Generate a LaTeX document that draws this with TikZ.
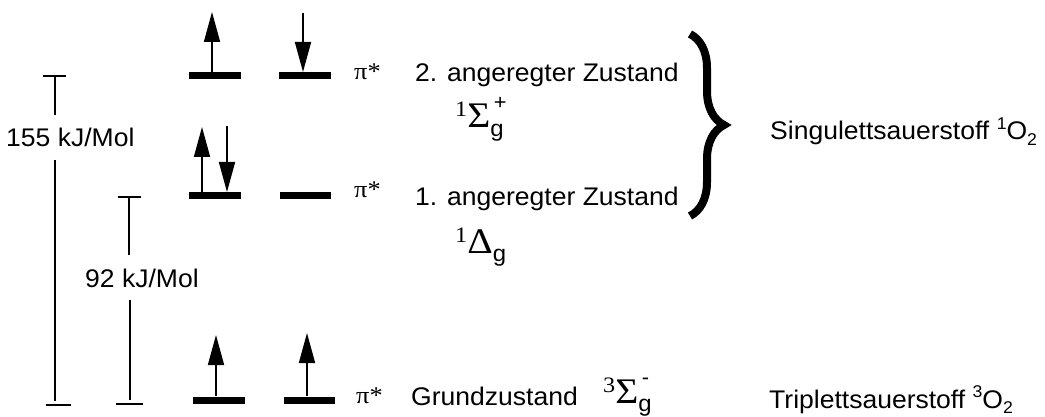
\documentclass[tikz,border=0pt]{standalone}
\usepackage{fontspec}
\setmainfont{Liberation Sans}[FakeStretch=1.04]
\newfontfamily\greekfont{Liberation Serif}[FakeStretch=1.1]
\usetikzlibrary{arrows.meta,decorations.pathreplacing}
\newcommand{\labelsize}{\fontsize{25.5}{29}\selectfont}
\newcommand{\pistar}{{\greekfont\fontsize{24}{26}\selectfont π*}}
% term symbol: multiplicity, letter, sign (subscript g)
\newcommand{\termsym}[3]{%
  {\greekfont\fontsize{22}{24}\selectfont\raisebox{0.5em}{#1}}%
  {\greekfont\fontsize{36}{38}\selectfont #2}%
  \rlap{\fontsize{23}{24}\selectfont\raisebox{-0.35em}{g}}%
  {\fontsize{21}{22}\selectfont\raisebox{0.9em}{\,#3}}}
\newcommand{\oxygen}[1]{{\fontsize{17}{18}\selectfont\raisebox{0.6em}{#1}}O{\fontsize{17}{18}\selectfont\raisebox{-0.3em}{2}}}

\begin{document}
\begin{tikzpicture}[x=1pt, y=-1pt, line cap=butt,
    level/.style={line width=7pt},
    spin/.style={line width=1.7pt, -{Triangle[width=16pt, length=30pt]}},
    gap/.style={line width=1.6pt},
    tick/.style={line width=2pt},
    txt/.style={font=\labelsize, inner sep=0pt, anchor=base west},
    elabel/.style={font=\labelsize, inner xsep=0pt, inner ysep=13pt, anchor=base west}]

  \useasboundingbox (0,0) rectangle (1045,417);

  % ============ energy gaps ============
  \node[elabel] (e155) at (6,147) {155 kJ/Mol};
  \coordinate (t155) at (55,76);
  \coordinate (b155) at (55,401);
  \draw[tick] (43,76) -- (66,76);
  \draw[gap] (t155) -- (t155 |- e155.north);
  \draw[gap] (e155.south -| b155) -- (b155);
  \draw[tick] (46,405) -- (71,405);

  \node[elabel] (e92) at (85,287) {92 kJ/Mol};
  \coordinate (t92) at (129,197);
  \coordinate (b92) at (130,400);
  \draw[tick] (118,197) -- (141,197);
  \draw[gap] (t92) -- (t92 |- e92.north);
  \draw[gap] (e92.south -| b92) -- (b92);
  \draw[tick] (116,404) -- (143,404);

  % ============ orbital levels ============
  % second excited state
  \draw[level] (189,76) -- (241,76);
  \draw[level] (279,76) -- (331,76);
  \draw[spin] (212,72) -- (212,12);
  \draw[spin] (303,13) -- (303,72);

  % first excited state
  \draw[level] (189,196) -- (241,196);
  \draw[level] (280,196) -- (331,196);
  \draw[spin] (202,192) -- (202,127);
  \draw[spin] (227,126) -- (227,192);

  % ground state
  \draw[level] (193,400) -- (245,400);
  \draw[level] (284,400) -- (335,400);
  \draw[spin] (216,396) -- (216,335);
  \draw[spin] (307,396) -- (307,333);

  % ============ labels ============
  \node[anchor=west, inner sep=0pt] (pi2) at (354,72) {\pistar};
  \node[anchor=west, inner sep=0pt] (pi1) at (354,190) {\pistar};
  \node[anchor=west, inner sep=0pt] (pi0) at (356,396) {\pistar};

  \node[txt] (s2) at (415,82) {2. angeregter Zustand};
  \node[txt] (s1) at (415,206) {1. angeregter Zustand};
  \node[txt] (s0) at (411,405) {Grundzustand};

  \node[txt] (t2) at (455,128) {\termsym{1}{Σ}{+}};
  \node[txt] (t1) at (455,253) {\termsym{1}{Δ}{}};
  \node[txt] (t0) at (603,403) {\termsym{3}{Σ}{-}};

  \draw[line width=8pt, decorate, decoration={brace, amplitude=34pt}] (690,34) -- (690,216);

  \node[txt] (singulett) at (770,140) {Singulettsauerstoff \oxygen{1}};
  \node[txt] (triplett) at (769,408) {Triplettsauerstoff \oxygen{3}};

\end{tikzpicture}
\end{document}
